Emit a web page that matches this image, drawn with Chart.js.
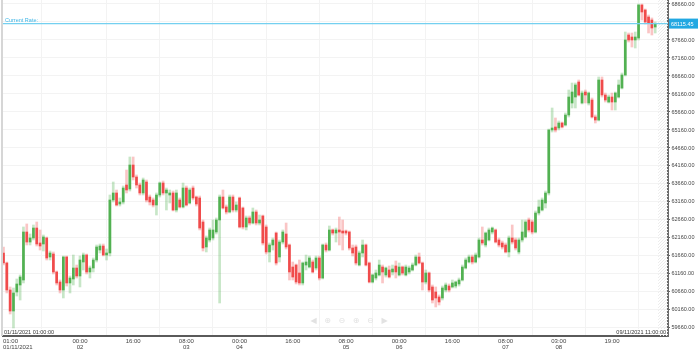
<!DOCTYPE html>
<html>
<head>
<meta charset="utf-8">
<script src="https://cdn.jsdelivr.net/npm/chart.js@4.4.0/dist/chart.umd.min.js"></script>
<style>
  html, body { margin: 0; padding: 0; background: #fff; }
  #wrap { width: 699px; height: 351px; }
</style>
</head>
<body>
<div id="wrap"><canvas id="rateChart"></canvas></div>
<script>
// hourly candles, 01/11/2021 01:00 -> 09/11/2021 11:00
const openPrices = [61743,61465,60715,60131,60660,60854,60993,62326,62048,62160,62437,62021,61993,62160,61632,61715,61215,60937,60715,61632,
  60910,61021,61326,61104,61493,61687,61215,61326,61548,61826,61937,61687,61743,63215,63410,63104,63160,63632,63521,64187,
  63854,63632,63410,63715,63298,63215,63076,63354,63687,63410,63354,63410,62937,63215,63021,63548,63132,63548,63298,63271,
  62604,61910,62104,62160,62326,62660,63298,63021,62882,63298,62937,63271,62993,62465,62715,62576,62882,62576,62771,62465,
  61771,61965,62298,61632,62048,62271,61965,61354,61409,61187,60910,61409,61354,61493,61326,61604,61048,61965,61826,62382,
  62298,62382,62354,62354,62326,61882,61910,61409,61743,61965,61465,60937,61048,61132,61354,61132,61271,61215,61382,61132,
  61354,61132,61215,61271,61409,61632,61465,60937,61187,60799,60660,60521,60493,60715,60826,60799,60826,60882,60993,61326,
  61493,61632,61493,61632,62104,61965,62104,62326,62382,62104,62021,61965,61771,62160,62104,61771,62104,62188,62660,62604,
  62326,62854,62937,63132,63410,65160,65243,65215,65354,65299,65576,65910,66076,66493,65910,66215,65910,65993,65521,65437,
  66549,66132,65937,66076,65937,66076,66326,66688,67799,67743,67660,67715,68632,68493,68299,68215,68021];
const highPrices = [61910,61492,60799,60771,61021,61132,62465,62549,62271,62521,62604,62382,62243,62188,61798,61771,61243,60993,61660,61660,
  61104,61687,61409,61660,61743,61715,61382,61604,61965,61993,61993,61854,63354,63715,63493,63271,63604,64048,64410,64410,
  63910,63687,63826,63771,63354,63271,63410,63715,63743,63548,63493,63465,63493,63271,63687,63604,63548,63604,63326,63326,
  62660,62215,62437,62660,62715,63354,63493,63076,63354,63354,63160,63298,63021,62771,62771,62993,62937,62798,62798,62521,
  62021,62160,62326,62104,62382,62576,61993,61493,61437,61548,61493,61687,61660,61548,61660,61660,61993,62021,62493,62410,
  62437,62743,62660,62382,62354,61965,61965,61798,62104,61993,61492,61160,61271,61548,61409,61354,61382,61409,61521,61465,
  61382,61409,61382,61465,61687,61743,61492,61271,61215,60854,60799,60576,60826,60910,60882,60993,60965,61048,61409,61604,
  61687,61687,61743,62160,62465,62326,62437,62465,62410,62160,62076,62021,62215,62521,62160,62160,62660,62660,62715,62660,
  62910,63215,63271,63465,65187,65771,65493,65410,65382,65632,66271,66465,66465,66549,66243,66271,66215,66048,65576,66632,
  66632,66187,66132,66187,66215,66549,66743,67882,67854,67854,67882,68660,68660,68521,68354,68271,68160];
const lowPrices = [61409,60632,60048,59660,60548,60437,60910,61965,61965,62104,61937,61826,61798,61548,61548,61160,60854,60632,60493,60826,
  60632,60854,61048,60799,61271,61160,61048,61215,61493,61743,61660,61548,61660,63160,63048,63048,63104,63410,63465,63771,
  63548,63354,63354,63160,63076,63021,62798,63298,63354,62937,63132,62910,62882,62993,62993,63048,63104,63215,63048,62382,
  61798,61771,62048,62104,62271,60354,62965,62826,62854,62882,62882,62437,62410,62382,62521,62549,62521,62521,61965,61715,
  61493,61826,61409,61493,61993,61854,60993,60993,60882,60854,60854,61271,61326,61187,61271,60993,61021,61771,61798,62243,
  62048,61965,61826,62243,61826,61660,61409,61382,61632,61382,60910,60910,60993,61104,60910,61076,61048,61132,61048,61104,
  61132,61104,61160,61243,61382,61437,60715,60882,60660,60354,60243,60298,60437,60660,60660,60771,60771,60826,60965,61298,
  61465,61437,61465,61604,61965,61910,62076,62271,62021,61910,61854,61743,61632,61993,61826,61715,62048,62160,62326,62271,
  62298,62798,62910,62993,63354,65104,65104,65160,65215,65271,65521,65771,65771,66104,65882,65910,65854,65493,65354,65410,
  66076,65937,65910,65715,65715,66048,66299,66660,67604,67465,67437,67660,68215,68104,67854,67799,67854];
const closePrices = [61465,60715,60131,60632,60882,61076,62326,62048,62160,62437,61993,61937,62188,61604,61743,61215,60910,60715,61632,60910,
  61048,61326,61104,61548,61687,61215,61326,61548,61910,61937,61687,61743,63215,63410,63076,63160,63548,63493,64187,63854,
  63632,63410,63771,63215,63160,63076,63354,63687,63410,63493,63410,62937,63410,63021,63548,63076,63493,63271,63104,62437,
  61882,62160,62382,62382,62660,63298,62993,62882,63298,62937,63076,62465,62465,62715,62576,62882,62576,62660,62021,61771,
  61965,62104,61465,62048,62326,61910,61215,61076,60937,60910,61465,61493,61604,61215,61604,61048,61965,61826,62382,62298,
  62382,62326,62298,62298,61882,61743,61465,61743,61965,61409,60937,61132,61187,61409,61215,61326,61076,61298,61215,61354,
  61187,61354,61326,61409,61632,61465,60937,61187,60715,60437,60493,60382,60771,60854,60715,60910,60937,60993,61354,61548,
  61632,61493,61687,62104,62021,62298,62382,62437,62048,61965,61910,61771,62160,62048,61882,62104,62326,62604,62382,62326,
  62854,63021,63215,63410,65160,65215,65160,65354,65243,65576,66076,66215,66410,66132,66187,66132,66187,65521,65437,66549,
  66132,65993,66076,65937,66187,66410,66688,67660,67660,67660,67743,68632,68438,68160,68132,67993,68115];

const currentRate = 68115.45;
const yTicks = [59660,60160,60660,61160,61660,62160,62660,63160,63660,64160,64660,65160,65660,66160,66660,67160,67660,68160,68660];
const xTickIdx = [0,23,39,55,71,87,103,119,135,151,167,183];
const xTickLabels = [['01:00','01/11/2021'],['00:00','02'],['16:00'],['08:00','03'],['00:00','04'],['16:00'],
  ['08:00','05'],['00:00','06'],['16:00'],['08:00','07'],['03:00','08'],['19:00']];
const firstStamp = '01/11/2021 01:00:00';
const lastStamp = '09/11/2021 11:00:00';

const UP = '#52b152', DOWN = '#f04b4b';
const UP_WICK = 'rgba(82,177,82,0.32)', DOWN_WICK = 'rgba(240,75,75,0.32)';
const FONT = '"Liberation Sans", Arial, sans-serif';

const decor = {
  id: 'decor',
  beforeDatasetsDraw(chart) {
    const {ctx, chartArea: a} = chart;
    ctx.save();
    // hatched right margin
    ctx.beginPath();
    ctx.rect(a.right - 10, a.top, 10, a.bottom - a.top);
    ctx.clip();
    ctx.strokeStyle = '#ededed';
    ctx.lineWidth = 1;
    for (let k = a.top - 20; k < a.bottom + 20; k += 3) {
      ctx.beginPath();
      ctx.moveTo(a.right - 10, k + 10);
      ctx.lineTo(a.right, k);
      ctx.stroke();
    }
    ctx.restore();
    ctx.save();
    ctx.strokeStyle = '#d6d6d6';
    ctx.lineWidth = 2;
    ctx.beginPath();
    ctx.moveTo(a.left - 1, a.top);
    ctx.lineTo(a.left - 1, a.bottom);
    ctx.stroke();
    // faint navigation icons
    ctx.fillStyle = '#e2e2e2';
    ctx.font = '8px "DejaVu Sans"';
    ctx.textAlign = 'center';
    ctx.textBaseline = 'middle';
    const icons = ['◀', '⊕', '⊖', '⊕', '⊖', '▶'];
    const mid = (a.left + a.right) / 2;
    icons.forEach((t, k) => ctx.fillText(t, mid - 22 + k * 14.2, a.bottom - 15));
    ctx.restore();
  },
  afterDraw(chart) {
    const {ctx, chartArea: a, scales} = chart;
    const y = scales.y.getPixelForValue(currentRate);
    ctx.save();
    ctx.strokeStyle = '#74d0f0';
    ctx.lineWidth = 1.2;
    ctx.beginPath();
    ctx.moveTo(a.left, y);
    ctx.lineTo(a.right, y);
    ctx.stroke();
    ctx.font = '5.5px ' + FONT;
    ctx.fillStyle = '#3db5e6';
    ctx.textBaseline = 'alphabetic';
    ctx.fillText('Current Rate:', a.left + 2, y - 2);
    ctx.fillStyle = '#22a8e2';
    ctx.fillRect(a.right + 1, y - 5, 29, 10);
    ctx.fillStyle = '#fff';
    ctx.textBaseline = 'middle';
    ctx.fillText(currentRate.toFixed(2), a.right + 3, y + 0.5);

    // first x label, left aligned
    ctx.fillStyle = '#444';
    ctx.font = '6px ' + FONT;
    ctx.textAlign = 'left';
    ctx.fillText(xTickLabels[0][0], a.left, a.bottom + 5);
    ctx.fillText(xTickLabels[0][1], a.left, a.bottom + 11);

    // range stamps
    ctx.font = '5.5px ' + FONT;
    ctx.textBaseline = 'alphabetic';
    const w1 = ctx.measureText(firstStamp).width;
    ctx.fillStyle = 'rgba(255,255,255,0.9)';
    ctx.fillRect(a.left, a.bottom - 7, w1 + 2, 6);
    ctx.fillStyle = '#333';
    ctx.fillText(firstStamp, a.left + 1, a.bottom - 2);
    const w2 = ctx.measureText(lastStamp).width;
    ctx.fillStyle = 'rgba(255,255,255,0.9)';
    ctx.fillRect(a.right - w2 - 3, a.bottom - 7, w2 + 2, 6);
    ctx.fillStyle = '#333';
    ctx.fillText(lastStamp, a.right - w2 - 2, a.bottom - 2);
    ctx.restore();
  }
};

new Chart(document.getElementById('rateChart'), {
  type: 'bar',
  data: {
    datasets: [
      {
        label: 'body',
        order: 0,
        grouped: false,
        barThickness: 2,
        minBarLength: 1,
        data: closePrices.map((c, i) => ({x: i, y: [openPrices[i], c]})),
        backgroundColor: closePrices.map((c, i) => c >= openPrices[i] ? UP : DOWN)
      },
      {
        label: 'wick',
        order: 1,
        grouped: false,
        barThickness: 2,
        data: highPrices.map((h, i) => ({x: i, y: [lowPrices[i], h]})),
        backgroundColor: closePrices.map((c, i) => c >= openPrices[i] ? UP_WICK : DOWN_WICK)
      }
    ]
  },
  options: {
    responsive: true,
    maintainAspectRatio: false,
    animation: false,
    events: [],
    layout: { padding: { left: 3, top: 0, right: 0, bottom: 0 } },
    plugins: { legend: { display: false }, tooltip: { enabled: false } },
    scales: {
      x: {
        type: 'linear',
        offset: false,
        min: -0.15,
        max: 199.85,
        afterBuildTicks: s => { s.ticks = xTickIdx.map(v => ({value: v})); },
        afterFit: s => { s.height = 15; s.paddingLeft = 0; s.paddingRight = 0; },
        grid: { color: '#f3f3f3', drawTicks: false },
        border: { color: '#5a5a5a', width: 2 },
        ticks: {
          autoSkip: false,
          maxRotation: 0,
          padding: 2,
          color: '#444',
          font: { family: FONT, size: 6, lineHeight: 1 },
          callback: v => {
            const k = xTickIdx.indexOf(v);
            return k > 0 ? xTickLabels[k] : '';
          }
        }
      },
      y: {
        position: 'right',
        min: 59437,
        max: 68771,
        afterBuildTicks: s => { s.ticks = yTicks.map(v => ({value: v})); },
        afterFit: s => { s.width = 31; s.paddingTop = 0; s.paddingBottom = 0; },
        grid: { color: '#f3f3f3', tickColor: '#666', tickLength: 2 },
        border: { color: '#6a6a6a', width: 2 },
        ticks: {
          padding: 1.5,
          color: '#444',
          font: { family: FONT, size: 5.5 },
          callback: v => Number(v).toFixed(2)
        }
      }
    }
  },
  plugins: [decor]
});
</script>
</body>
</html>
